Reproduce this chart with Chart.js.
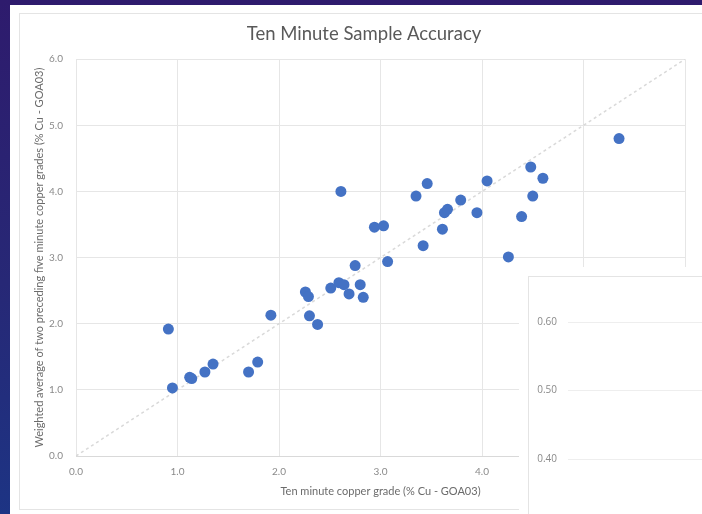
<!DOCTYPE html>
<html>
<head>
<meta charset="utf-8">
<script src="https://cdn.jsdelivr.net/npm/chart.js@4/dist/chart.umd.min.js"></script>
<style>
  html, body { margin: 0; padding: 0; }
  body {
    width: 702px; height: 514px; position: relative; overflow: hidden;
    background: linear-gradient(180deg, #2e1b6d 0%, #272876 55%, #1d3484 100%);
  }
  #card { position: absolute; left: 10px; top: 5px; right: 0; bottom: 0; background: #fff; }
  #frame { position: absolute; left: 19px; top: 13px; width: 700px; height: 495px; border: 1px solid #e4e4e4; }
  #mainChart { position: absolute; left: 0; top: 0; }
  #inset { position: absolute; left: 519px; top: 267px; right: 0; bottom: 0; background: #fff; }
  #insetFrame { position: absolute; left: 528px; top: 276px; right: 0; bottom: 0; border-left: 1px solid #e4e4e4; border-top: 1px solid #e4e4e4; }
  #insetChart { position: absolute; left: 530px; top: 264px; }
</style>
</head>
<body>
<div id="card"></div>
<div id="frame"></div>
<canvas id="mainChart" width="702" height="514"></canvas>
<div id="inset"></div>
<div id="insetFrame"></div>
<canvas id="insetChart" width="172" height="267"></canvas>
<script>
// ten minute grade vs weighted average of two preceding five minute grades
const xVals = [0.91, 0.95, 1.12, 1.14, 1.27, 1.35, 1.70, 1.79, 1.92, 2.26, 2.29, 2.30, 2.38,
    2.51, 2.59, 2.64, 2.69, 2.75, 2.80, 2.83, 2.61, 2.94, 3.03, 3.07, 3.35, 3.46, 3.42,
    3.61, 3.63, 3.66, 3.79, 3.95, 4.05, 4.26, 4.39, 4.48, 4.50, 4.60, 5.35];
const yVals = [1.92, 1.03, 1.19, 1.17, 1.27, 1.39, 1.27, 1.42, 2.13, 2.48, 2.41, 2.12, 1.99,
    2.54, 2.62, 2.59, 2.45, 2.88, 2.59, 2.40, 4.00, 3.46, 3.48, 2.94, 3.93, 4.12, 3.18,
    3.43, 3.68, 3.73, 3.87, 3.68, 4.16, 3.01, 3.62, 4.37, 3.93, 4.20, 4.80];
const xTicks = [0, 1, 2, 3, 4, 5, 6];
const yTicks = [0, 1, 2, 3, 4, 5, 6];
const refLine = [0, 6];
const insetTicks = [0.40, 0.50, 0.60];

const textFont = 'Lato, "Open Sans", sans-serif';
const gridColor = '#e6e6e6';

const points = xVals.map((x, i) => ({ x: x, y: yVals[i] }));

new Chart(document.getElementById('mainChart'), {
    type: 'scatter',
    data: {
        datasets: [
            {
                type: 'line',
                order: 2,
                data: refLine.map(v => ({ x: v, y: v })),
                borderColor: '#d9d9d9',
                borderWidth: 1.5,
                borderDash: [3, 3],
                pointRadius: 0,
                fill: false
            },
            {
                order: 1,
                data: points,
                backgroundColor: '#4472c4',
                borderColor: '#4472c4',
                borderWidth: 0,
                pointRadius: 5.5
            }
        ]
    },
    options: {
        responsive: false,
        animation: false,
        devicePixelRatio: 1,
        layout: { padding: { left: 38, right: 12, top: 0, bottom: 0 } },
        plugins: {
            legend: { display: false },
            tooltip: { enabled: false },
            title: {
                display: true,
                text: 'Ten Minute Sample Accuracy',
                color: '#595959',
                font: { family: textFont, size: 18.5, weight: 'normal' },
                padding: { top: 23, bottom: 14 }
            }
        },
        scales: {
            x: {
                type: 'linear',
                min: 0,
                max: 6,
                afterBuildTicks: (axis) => { axis.ticks = xTicks.map(v => ({ value: v })); },
                afterFit: (axis) => { axis.height = 58; },
                grid: { color: gridColor, drawTicks: false },
                border: { color: '#d9d9d9' },
                ticks: {
                    padding: 10,
                    color: '#8a8a8a',
                    font: { family: textFont, size: 10 },
                    callback: (v) => v.toFixed(1)
                },
                title: {
                    display: true,
                    text: 'Ten minute copper grade (% Cu - GOA03)',
                    color: '#6b6b6b',
                    font: { family: textFont, size: 11 },
                    padding: { top: 0, bottom: 16 }
                }
            },
            y: {
                type: 'linear',
                min: 0,
                max: 6,
                afterBuildTicks: (axis) => { axis.ticks = yTicks.map(v => ({ value: v })); },
                afterFit: (axis) => { axis.width = 38; },
                grid: { color: gridColor, drawTicks: false },
                border: { display: false },
                ticks: {
                    padding: 13,
                    color: '#8a8a8a',
                    font: { family: textFont, size: 10 },
                    callback: (v) => v.toFixed(1)
                },
                title: {
                    display: true,
                    text: 'Weighted average of two preceding five minute copper grades (% Cu - GOA03)',
                    color: '#6b6b6b',
                    font: { family: textFont, size: 11 },
                    padding: { top: -5.6, bottom: 0 }
                }
            }
        }
    }
});

// second panel that overlaps the bottom right corner
new Chart(document.getElementById('insetChart'), {
    type: 'line',
    data: { labels: [''], datasets: [] },
    options: {
        responsive: false,
        animation: false,
        devicePixelRatio: 1,
        layout: { padding: 0 },
        plugins: { legend: { display: false }, tooltip: { enabled: false } },
        scales: {
            x: { display: false },
            y: {
                min: 0.32,
                max: 0.66,
                afterBuildTicks: (axis) => { axis.ticks = insetTicks.map(v => ({ value: v })); },
                afterFit: (axis) => { axis.width = 38; },
                grid: { color: '#eeeeee', drawTicks: false },
                border: { display: false },
                ticks: {
                    padding: 11,
                    color: '#8a8a8a',
                    font: { family: '"Open Sans", sans-serif', size: 10 },
                    callback: (v) => v.toFixed(2)
                }
            }
        }
    }
});
</script>
</body>
</html>
